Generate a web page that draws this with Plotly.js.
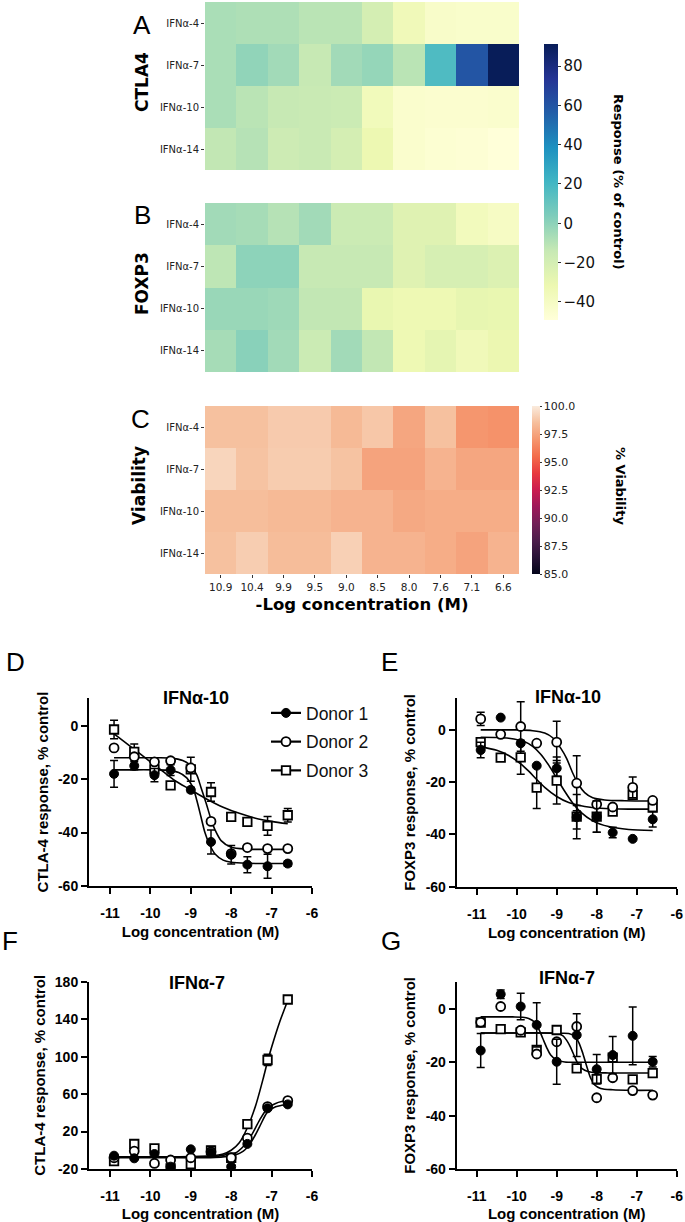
<!DOCTYPE html>
<html>
<head>
<meta charset="utf-8">
<script src="https://cdn.plot.ly/plotly-3.0.1.min.js"></script>
<style>html,body{margin:0;padding:0;background:#fff;}#chart{width:685px;height:1222px;}</style>
</head>
<body>
<div id="chart"></div>
<script>
// ---------- Heatmap data ----------
const concLabels = ['10.9','10.4','9.9','9.5','9.0','8.5','8.0','7.6','7.1','6.6'];
const ifnRows = ['IFNα-4','IFNα-7','IFNα-10','IFNα-14'];

const ctla4Heat = [
  [-7, -8, -8, -11, -11, -20, -35, -42, -43, -43],
  [-7, -1, -5, -14, -5, -2, -11, 17, 60, 91],
  [-7, -11, -14, -15, -16, -36, -44, -45, -45, -44],
  [-13, -10, -17, -15, -20, -32, -44, -46, -47, -49]
];
const foxp3Heat = [
  [-5, -6, -10, -5, -16, -16, -25, -25, -37, -40],
  [-12, 0, 0, -14, -14, -14, -25, -21, -21, -24],
  [-3, -3, -4, -13, -13, -30, -33, -33, -29, -30],
  [-6, 1, -5, -16, -5, -13, -33, -28, -35, -31]
];
const viabilityHeat = [
  [98.6, 98.6, 98.9, 98.9, 98.35, 98.8, 97.6, 98.6, 97.0, 96.85],
  [99.25, 98.65, 98.95, 98.95, 98.65, 97.5, 97.5, 98.1, 97.6, 97.6],
  [98.5, 98.5, 98.35, 98.35, 98.1, 98.1, 97.7, 97.85, 97.85, 97.85],
  [98.6, 99.0, 98.45, 98.45, 99.1, 98.1, 98.1, 97.85, 97.5, 98.1]
];

const respTickVals = [-40, -20, 0, 20, 40, 60, 80];
const respTickText = ['\u221240', '\u221220', '0', '20', '40', '60', '80'];
const viaTickVals = [85, 87.5, 90, 92.5, 95, 97.5, 100];
const viaTickText = ['85.0', '87.5', '90.0', '92.5', '95.0', '97.5', '100.0'];

// ---------- Dose-response data ----------
const logConc = [-10.9, -10.4, -9.9, -9.5, -9.0, -8.5, -8.0, -7.6, -7.1, -6.6];
const donorNames = ['Donor 1', 'Donor 2', 'Donor 3'];
const xTickVals = [-11, -10, -9, -8, -7, -6];
const xTickText = ['-11', '-10', '-9', '-8', '-7', '-6'];

// D: CTLA-4, IFNα-10
const dMean1 = [-18, -15, -18.5, -16.6, -24, -43.5, -48.3, -52, -52.6, -51.6];
const dErr1  = [5, 1.5, 2.5, 2, 1, 4.5, 3.5, 3, 4.5, 1];
const dMean2 = [-8.3, -11.6, -13.5, -13.1, -15.8, -35.8, -47.9, -45.6, -46, -46];
const dErr2  = [0, 0, 0, 0, 0, 0, 0, 0, 0, 0];
const dMean3 = [-1.4, -9.8, -16.3, -22.3, -16.3, -24.8, -34.1, -36, -37.5, -33.5];
const dErr3  = [3.5, 3, 0, 0, 4.5, 3.5, 0, 0, 3.5, 2.5];
const dFit1x = [-10.9, -10.4, -9.9, -9.6, -9.3, -9.1, -8.95, -8.85, -8.75, -8.65, -8.55, -8.4, -8.2, -8.0, -7.6, -7.1, -6.6];
const dFit1y = [-16.5, -16.5, -16.5, -16.6, -17.5, -19.5, -23, -28, -34, -40, -44, -48, -50.3, -51.1, -51.5, -51.6, -51.6];
const dFit2x = [-10.9, -10.4, -9.9, -9.5, -9.2, -9.0, -8.85, -8.75, -8.62, -8.5, -8.4, -8.25, -8.0, -7.6, -7.1, -6.6];
const dFit2y = [-12, -12, -12, -12.1, -13, -15, -18.5, -23, -29, -35, -39, -43, -45.5, -46.2, -46.3, -46.3];
const dFit3x = [-10.9, -10.6, -10.3, -10.0, -9.7, -9.4, -9.0, -8.6, -8.2, -7.8, -7.4, -7.0, -6.6];
const dFit3y = [-3, -6.5, -10, -13.5, -17, -20.5, -24, -27.5, -30.5, -32.8, -34.6, -35.8, -36.7];

// E: FOXP3, IFNα-10
const eMean1 = [-7.7, 4.7, -5.1, -13.7, -14.7, -33.4, -33.2, -39.3, -41.7, -34.2];
const eErr1  = [3, 0, 0, 0, 3, 4.5, 6, 2, 0, 3];
const eMean2 = [4.2, -1.7, 1.3, -5.1, -4.7, -20.4, -28.5, -29.5, -22, -27];
const eErr2  = [2.5, 0, 9.5, 0, 8, 10.5, 0, 0, 4, 0];
const eMean3 = [-4.7, -10.6, -10.5, -22.1, -19.4, -33.2, -33.2, -31.3, -24.9, -29.7];
const eErr3  = [0, 0, 6.5, 8, 9, 8.5, 6, 0, 0, 0];
const eFit1x = [-10.9, -10.5, -10.2, -9.8, -9.6, -9.4, -9.2, -9.0, -8.8, -8.6, -8.4, -8.1, -7.7, -7.2, -6.6];
const eFit1y = [-2.8, -2.9, -3.2, -4.5, -6.3, -9.3, -13.5, -18.5, -23.5, -28, -31.5, -34.8, -37, -38.1, -38.5];
const eFit2x = [-10.9, -10.5, -10.0, -9.6, -9.3, -9.1, -8.9, -8.75, -8.6, -8.45, -8.3, -8.1, -7.8, -7.3, -6.6];
const eFit2y = [0, 0, 0, -0.3, -1.2, -3, -7, -11, -16.5, -21, -24, -26, -26.8, -27.1, -27.2];
const eFit3x = [-10.9, -10.5, -10.2, -9.9, -9.7, -9.5, -9.3, -9.0, -8.7, -8.3, -7.9, -7.2, -6.6];
const eFit3y = [-6.5, -7.8, -9.8, -13, -15.8, -19, -22, -25.5, -27.8, -29.3, -30, -30.3, -30.3];

// F: CTLA-4, IFNα-7
const fMean1 = [-5.8, -8.6, -4, -17.5, 1, -2.6, -17.5, 6.8, 44.8, 49];
const fErr1  = [0, 0, 0, 3, 0, 0, 2, 0, 0, 0];
const fMean2 = [-8, -0.9, -14, -10.4, -8, -1.6, -8, 12.9, 46.6, 53];
const fErr2  = [0, 0, 0, 0, 0, 0, 0, 0, 0, 0];
const fMean3 = [-11.5, 6.7, 2, -19.3, -14.7, -0.1, -8, 28, 96.4, 161];
const fErr3  = [0, 0, 0, 0, 0, 4, 0, 0, 6, 0];
const fFit1x = [-10.9, -10.2, -9.5, -8.8, -8.4, -8.1, -7.9, -7.7, -7.5, -7.3, -7.1, -6.9, -6.75, -6.6];
const fFit1y = [-8, -8, -8, -8, -7.8, -6.5, -5, -1, 9, 25, 41, 46.5, 48, 48.8];
const fFit2x = [-10.9, -10.2, -9.5, -8.8, -8.4, -8.1, -7.9, -7.7, -7.5, -7.3, -7.1, -6.9, -6.75, -6.6];
const fFit2y = [-7.5, -7.5, -7.5, -7.5, -6.8, -4.5, -3, 4, 16, 32, 45, 50, 52, 53];
const fFit3x = [-10.9, -10.2, -9.5, -9.0, -8.5, -8.2, -8.0, -7.8, -7.6, -7.4, -7.2, -7.1, -7.0, -6.8, -6.6];
const fFit3y = [-7, -7, -7, -6.8, -6, -4, 0, 8, 24, 47, 78, 95, 110, 137, 160];

// G: FOXP3, IFNα-7
const gMean1 = [-15.6, 5.5, 0.9, -6, -19.8, -9.8, -22.6, -17.3, -10.1, -19.8];
const gErr1  = [6.4, 1.6, 5, 8.3, 8.4, 8, 5.5, 7, 10.8, 2];
const gMean2 = [-5, 0.9, -8, -16.9, -12.3, -6.6, -33.3, -25.8, -30.6, -32.3];
const gErr2  = [0, 0, 0, 0, 0, 0, 0, 0, 0, 0];
const gMean3 = [-5.1, -7.6, -8.8, -15.4, -7.9, -22.3, -26.3, -18.3, -26.4, -24.1];
const gErr3  = [0, 0, 0, 0, 0, 0, 0, 0, 0, 0];
const gFit1x = [-10.9, -10.5, -10.1, -9.85, -9.7, -9.55, -9.45, -9.35, -9.25, -9.15, -9.0, -8.8, -8.4, -7.8, -7.2, -6.6];
const gFit1y = [-3, -3, -3, -3.1, -3.6, -5, -7.5, -11, -14.5, -17.3, -19.2, -19.9, -20, -20, -20, -20];
const gFit2x = [-10.9, -10.4, -9.9, -9.4, -8.9, -8.7, -8.55, -8.45, -8.35, -8.25, -8.15, -8.05, -7.9, -7.6, -7.1, -6.6];
const gFit2y = [-9, -9, -9, -9, -9.1, -9.2, -10.2, -12.5, -16.5, -21.5, -26, -28.5, -29.8, -30.3, -30.5, -30.5];
const gFit3x = [-10.9, -10.4, -9.9, -9.4, -9.0, -8.85, -8.75, -8.65, -8.55, -8.45, -8.3, -8.1, -7.7, -7.2, -6.6];
const gFit3y = [-9, -9, -9, -9, -9.2, -10, -11.8, -14.5, -18, -21, -23, -23.8, -24, -24, -24];

// ---------- Styles ----------
const YlGnBu = [
  [0, 'rgb(255,255,217)'], [0.125, 'rgb(237,248,177)'], [0.25, 'rgb(199,233,180)'],
  [0.375, 'rgb(127,205,187)'], [0.5, 'rgb(65,182,196)'], [0.625, 'rgb(29,145,192)'],
  [0.75, 'rgb(34,94,168)'], [0.875, 'rgb(37,52,148)'], [1, 'rgb(8,29,88)']
];
const rocket = [
  [0, 'rgb(3,5,26)'], [0.1, 'rgb(40,18,54)'], [0.2, 'rgb(76,29,75)'], [0.3, 'rgb(114,31,87)'],
  [0.4, 'rgb(157,24,90)'], [0.5, 'rgb(203,27,80)'], [0.6, 'rgb(232,57,63)'], [0.7, 'rgb(243,108,75)'],
  [0.8, 'rgb(245,150,110)'], [0.9, 'rgb(246,190,155)'], [1, 'rgb(250,235,221)']
];
const W = 685, H = 1222;
const px = v => v / W;
const py = v => 1 - v / H;

const markerStyles = [
  {symbol: 'circle', size: 9, color: 'black', line: {color: 'black', width: 1}},
  {symbol: 'circle', size: 9, color: 'white', line: {color: 'black', width: 1.8}},
  {symbol: 'square', size: 8.5, color: 'white', line: {color: 'black', width: 1.8}}
];

const traces = [];
// Heatmaps
traces.push({type: 'heatmap', x: concLabels, y: ifnRows, z: ctla4Heat, coloraxis: 'coloraxis', xaxis: 'x', yaxis: 'y', hoverinfo: 'skip'});
traces.push({type: 'heatmap', x: concLabels, y: ifnRows, z: foxp3Heat, coloraxis: 'coloraxis', xaxis: 'x2', yaxis: 'y2', hoverinfo: 'skip'});
traces.push({type: 'heatmap', x: concLabels, y: ifnRows, z: viabilityHeat, coloraxis: 'coloraxis2', xaxis: 'x3', yaxis: 'y3', hoverinfo: 'skip'});

function addPanel(xa, ya, fits, means, errs) {
  for (let i = 0; i < 3; i++) {
    traces.push({type: 'scatter', mode: 'lines', x: fits[i][0], y: fits[i][1], xaxis: xa, yaxis: ya,
      line: {color: 'black', width: 1.6, shape: 'spline', smoothing: 0.8}, showlegend: false, hoverinfo: 'skip'});
  }
  for (let i = 2; i >= 0; i--) {
    traces.push({type: 'scatter', mode: 'markers', x: logConc, y: means[i], xaxis: xa, yaxis: ya,
      marker: markerStyles[i], showlegend: false, hoverinfo: 'skip',
      error_y: {type: 'data', array: errs[i], visible: true, color: 'black', thickness: 1.5, width: 4}});
  }
}
addPanel('x4', 'y4', [[dFit1x, dFit1y], [dFit2x, dFit2y], [dFit3x, dFit3y]], [dMean1, dMean2, dMean3], [dErr1, dErr2, dErr3]);
addPanel('x5', 'y5', [[eFit1x, eFit1y], [eFit2x, eFit2y], [eFit3x, eFit3y]], [eMean1, eMean2, eMean3], [eErr1, eErr2, eErr3]);
addPanel('x6', 'y6', [[fFit1x, fFit1y], [fFit2x, fFit2y], [fFit3x, fFit3y]], [fMean1, fMean2, fMean3], [fErr1, fErr2, fErr3]);
addPanel('x7', 'y7', [[gFit1x, gFit1y], [gFit2x, gFit2y], [gFit3x, gFit3y]], [gMean1, gMean2, gMean3], [gErr1, gErr2, gErr3]);

// legend entries
for (let i = 0; i < 3; i++) {
  traces.push({type: 'scatter', mode: 'lines+markers', x: [null], y: [null], xaxis: 'x4', yaxis: 'y4',
    name: donorNames[i], legendgroup: 'g' + i, marker: markerStyles[i], line: {color: 'black', width: 2.2}, hoverinfo: 'skip'});
}

// ---------- Axes ----------
const hmX = {type: 'category', showgrid: false, zeroline: false, showline: false, ticks: '', showticklabels: false, fixedrange: true, automargin: false};
const hmY = {type: 'category', autorange: 'reversed', showgrid: false, zeroline: false, showline: false,
  ticks: 'outside', ticklen: 3, tickwidth: 1, tickcolor: '#333',
  tickfont: {family: 'DejaVu Sans', size: 10, color: '#222'}, automargin: false};
const hxDom = [px(205), px(519)];

const lineX = (dom, anchor) => ({domain: dom, anchor: anchor, range: [-11.52, -6], tickvals: xTickVals, ticktext: xTickText,
  ticks: 'outside', ticklen: 6, tickwidth: 2, tickcolor: 'black', showline: true, linewidth: 2, linecolor: 'black',
  showgrid: false, zeroline: false, automargin: false, ticklabelstandoff: 7,
  tickfont: {family: 'Liberation Sans', size: 14, weight: 'bold', color: 'black'},
  title: {text: 'Log concentration (M)', font: {family: 'Liberation Sans', size: 15, weight: 'bold', color: 'black'}, standoff: 7}});
const lineY = (dom, anchor, rng, tv, titleText) => ({domain: dom, anchor: anchor, range: rng, tickvals: tv, ticktext: tv.map(String),
  ticks: 'outside', ticklen: 6, tickwidth: 2, tickcolor: 'black', showline: true, linewidth: 2, linecolor: 'black',
  showgrid: false, zeroline: false, automargin: false,
  tickfont: {family: 'Liberation Sans', size: 14, weight: 'bold', color: 'black'},
  title: {text: titleText, font: {family: 'Liberation Sans', size: 15, weight: 'bold', color: 'black'}, standoff: 6}});

const layout = {
  width: W, height: H, margin: {l: 0, r: 0, t: 0, b: 0},
  paper_bgcolor: 'white', plot_bgcolor: 'white',
  showlegend: true,
  legend: {x: px(266), y: py(695), xanchor: 'left', yanchor: 'top', bgcolor: 'rgba(0,0,0,0)',
    font: {family: 'Liberation Sans', size: 17.5, color: '#111'}, traceorder: 'grouped', tracegroupgap: 3, itemwidth: 30},
  xaxis: Object.assign({}, hmX, {domain: hxDom, anchor: 'y'}),
  yaxis: Object.assign({}, hmY, {domain: [py(170), py(2)], anchor: 'x'}),
  xaxis2: Object.assign({}, hmX, {domain: hxDom, anchor: 'y2'}),
  yaxis2: Object.assign({}, hmY, {domain: [py(372), py(203)], anchor: 'x2'}),
  xaxis3: Object.assign({}, hmX, {domain: hxDom, anchor: 'y3', showticklabels: true, ticks: 'outside', ticklen: 3, tickcolor: '#333',
    tickfont: {family: 'DejaVu Sans', size: 10.5, color: '#222'},
    title: {text: '-Log concentration (M)', font: {family: 'DejaVu Sans', size: 16.5, weight: 'bold', color: 'black'}, standoff: 6}}),
  yaxis3: Object.assign({}, hmY, {domain: [py(574), py(406)], anchor: 'x3'}),
  xaxis4: lineX([px(89), px(312)], 'y4'),
  yaxis4: lineY([py(886), py(698)], 'x4', [-60, 10.4], [-60, -40, -20, 0], 'CTLA-4 response, % control'),
  xaxis5: Object.assign(lineX([px(456.7), px(676.7)], 'y5'), {range: [-11.5, -6]}),
  yaxis5: lineY([py(886.7), py(698)], 'x5', [-60, 12.2], [-60, -40, -20, 0], 'FOXP3 response, % control'),
  xaxis6: lineX([px(89), px(312)], 'y6'),
  yaxis6: lineY([py(1169), py(981.7)], 'x6', [-20, 180], [-20, 20, 60, 100, 140, 180], 'CTLA-4 response, % control'),
  xaxis7: Object.assign(lineX([px(456.7), px(676.7)], 'y7'), {range: [-11.5, -6]}),
  yaxis7: lineY([py(1169), py(981.7)], 'x7', [-60, 10.2], [-60, -40, -20, 0], 'FOXP3 response, % control'),
  coloraxis: {colorscale: YlGnBu, cmin: -49.2, cmax: 91.2,
    colorbar: {x: px(544), xanchor: 'left', y: py(182), yanchor: 'middle', len: 276 / H, lenmode: 'fraction',
      thickness: 14, thicknessmode: 'pixels', xpad: 0, ypad: 0, outlinewidth: 0,
      ticks: 'outside', ticklen: 3, tickcolor: '#333', tickvals: respTickVals, ticktext: respTickText,
      tickfont: {family: 'DejaVu Sans', size: 15, color: '#111'}}},
  coloraxis2: {colorscale: rocket, cmin: 85, cmax: 100,
    colorbar: {x: px(532), xanchor: 'left', y: py(490), yanchor: 'middle', len: 168 / H, lenmode: 'fraction',
      thickness: 8, thicknessmode: 'pixels', xpad: 0, ypad: 0, outlinewidth: 0,
      ticks: 'outside', ticklen: 2, tickcolor: '#333', tickvals: viaTickVals, ticktext: viaTickText,
      tickfont: {family: 'DejaVu Sans', size: 11, color: '#222'}}},
  annotations: []
};

function ann(text, x, y, opts) {
  layout.annotations.push(Object.assign({text: text, x: px(x), y: py(y), xref: 'paper', yref: 'paper',
    showarrow: false, xanchor: 'center', yanchor: 'middle'}, opts));
}
const letterFont = {family: 'Liberation Sans', size: 26, color: 'black'};
ann('A', 142, 25, {font: letterFont});
ann('B', 142, 215, {font: letterFont});
ann('C', 140, 419, {font: letterFont});
ann('D', 15, 662, {font: letterFont});
ann('E', 389, 662, {font: letterFont});
ann('F', 10, 941, {font: letterFont});
ann('G', 391, 941, {font: letterFont});

const rowFont = {family: 'DejaVu Sans', size: 17, weight: 'bold', color: 'black'};
ann('CTLA4', 142, 82, {font: rowFont, textangle: -90});
ann('FOXP3', 142, 284, {font: rowFont, textangle: -90});
ann('Viability', 139, 486, {font: rowFont, textangle: -90});

const cbFont = {family: 'DejaVu Sans', size: 13, weight: 'bold', color: 'black'};
ann('Response (% of control)', 619, 182, {font: cbFont, textangle: 90});
ann('% Viability', 620, 486, {font: cbFont, textangle: 90});

const ptFont = {family: 'Liberation Sans', size: 18, weight: 'bold', color: 'black'};
ann('IFNα-10', 196, 698, {font: ptFont});
ann('IFNα-10', 568, 697, {font: ptFont});
ann('IFNα-7', 197, 983, {font: ptFont});
ann('IFNα-7', 567, 978, {font: ptFont});

Plotly.newPlot('chart', traces, layout, {displayModeBar: false, staticPlot: true});
</script>
</body>
</html>
